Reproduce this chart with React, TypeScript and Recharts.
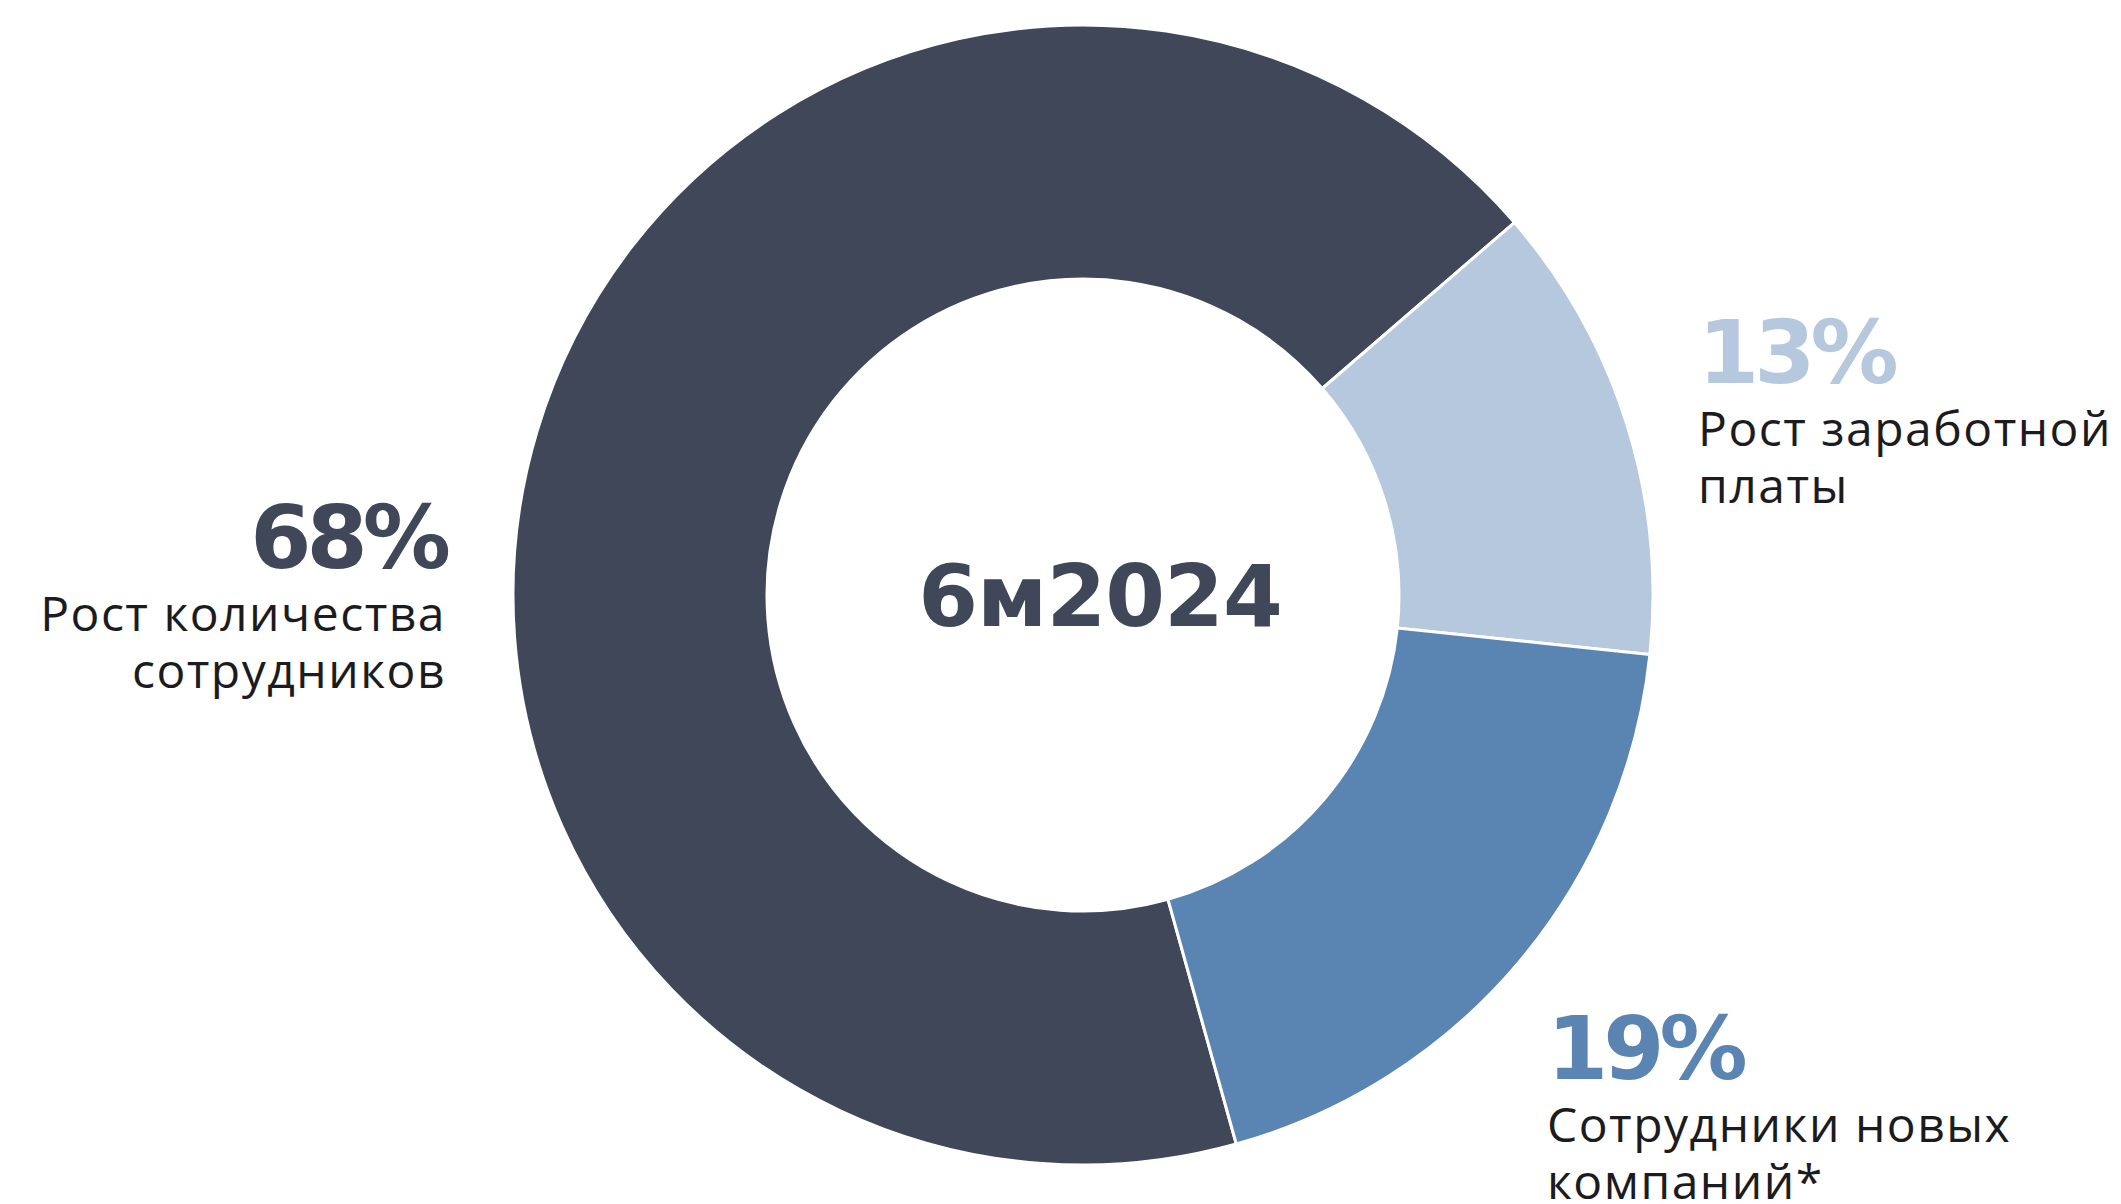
import { Cell, Label, Pie, PieChart } from "recharts";

// ── Данные ───────────────────────────────────────────────────────────────────
const SEGMENTS = ["Рост количества сотрудников", "Рост заработной платы", "Сотрудники новых компаний*"];
const SHARES = [68, 13, 19];
const LABEL_LINES = [
  ["Рост количества", "сотрудников"],
  ["Рост заработной", "платы"],
  ["Сотрудники новых", "компаний*"],
];
const CENTER_LABEL = "6м2024";

const COLORS = ["#404759", "#b5c8de", "#5a85b2"];
const TEXT = "#1b1b20";

const W = 2121;
const H = 1204;
const CX = 1083;
const CY = 595;

// смещения подписей относительно центра кольца: [dx, dy базовой линии процента, якорь]
const LABEL_POS: { dx: number; dy: number; anchor: "start" | "end" }[] = [
  { dx: -637, dy: -27, anchor: "end" },
  { dx: 615, dy: -212, anchor: "start" },
  { dx: 464, dy: 484, anchor: "start" },
];

const data = SEGMENTS.map((name, i) => ({ name, value: SHARES[i] }));

function SliceLabel(props: any) {
  const { cx, cy, index, value } = props;
  const p = LABEL_POS[index];
  const x = cx + p.dx;
  const y = cy + p.dy;
  return (
    <g>
      <text
        x={x}
        y={y}
        textAnchor={p.anchor}
        fill={COLORS[index]}
        fontFamily="DejaVu Sans"
        fontWeight={700}
        fontSize={88}
        letterSpacing={-5}
      >
        {value}%
      </text>
      {LABEL_LINES[index].map((line, j) => (
        <text
          key={j}
          x={x}
          y={y + 63 + j * 57}
          textAnchor={p.anchor}
          fill={TEXT}
          fontFamily="Open Sans"
          fontSize={48}
          letterSpacing={1.5}
        >
          {line}
        </text>
      ))}
    </g>
  );
}

export default function App() {
  return (
    <div style={{ position: "absolute", left: 0, top: 0, width: W, height: H, background: "#fff" }}>
      <PieChart width={W} height={H} margin={{ top: 0, right: 0, bottom: 0, left: 0 }}>
        <Pie
          data={data}
          dataKey="value"
          nameKey="name"
          cx={CX}
          cy={CY}
          innerRadius={316}
          outerRadius={570}
          startAngle={285.6}
          endAngle={-74.4}
          stroke="#ffffff"
          strokeWidth={3}
          label={SliceLabel}
          labelLine={false}
          isAnimationActive={false}
        >
          {data.map((d, i) => (
            <Cell key={d.name} fill={COLORS[i]} />
          ))}
          <Label
            content={({ viewBox }: any) => (
              <text
                x={(viewBox?.cx ?? CX) + 17}
                y={(viewBox?.cy ?? CY) + 31}
                textAnchor="middle"
                fill={COLORS[0]}
                fontFamily="DejaVu Sans"
                fontWeight={700}
                fontSize={86}
                letterSpacing={-1}
              >
                {CENTER_LABEL}
              </text>
            )}
          />
        </Pie>
      </PieChart>
    </div>
  );
}
